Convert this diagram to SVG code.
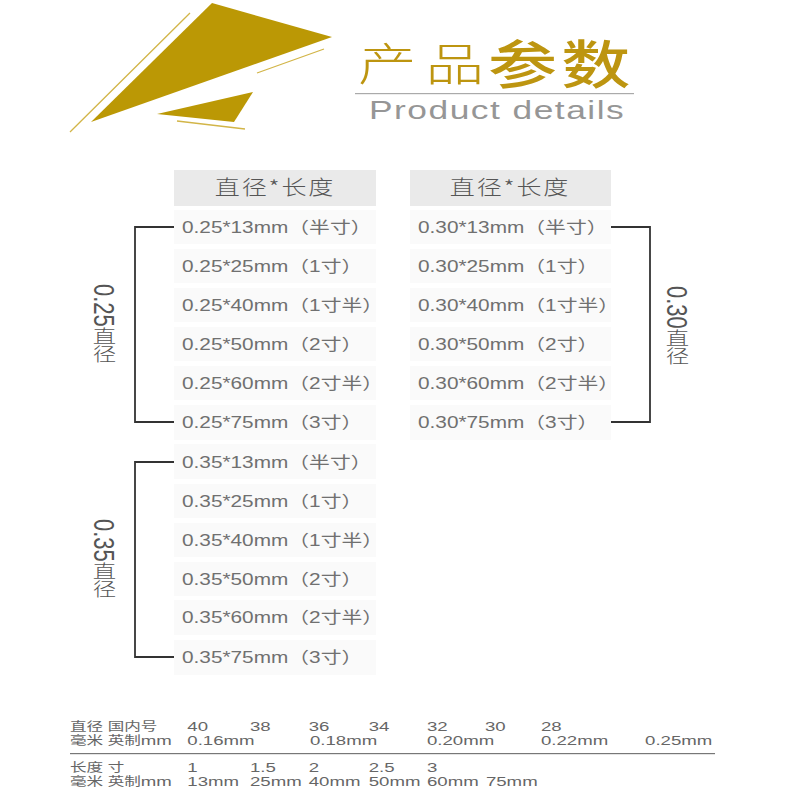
<svg xmlns="http://www.w3.org/2000/svg" width="800" height="800" viewBox="0 0 800 800">
<style>
.hd{fill:#eaeaea}
.row{fill:#fafafa}
.ht{font:300 20px "Noto Sans CJK SC","Liberation Sans",sans-serif;fill:#555;text-anchor:middle;letter-spacing:1.5px}
.t{font:16px "Liberation Sans","Noto Sans CJK SC",sans-serif;fill:#707070}
.v{font:22px "Liberation Sans","Noto Sans CJK SC",sans-serif;fill:#555;writing-mode:vertical-rl}
.v tspan{font-size:18px;font-weight:300}
.b{font:13.5px "Liberation Sans","Noto Sans CJK SC",sans-serif;fill:#666}
.b tspan{font-size:12px}
.conn{fill:none;stroke:#333;stroke-width:1.8}
.g{fill:#bb9805}
.gl{stroke:#d2b548;stroke-width:1.3;fill:none}
.tt{fill:#bd9510;font-family:"Noto Sans CJK SC",sans-serif}
</style>
<rect width="800" height="800" fill="#fff"/>
<g id="logo">
<polygon class="g" points="212,3 332,37 91,122"/>
<polygon class="g" points="157,114 253,92 234,122"/>
<path class="gl" d="M70,132 L190,13 M257,73 L324,49 M177,121 L245,129"/>
</g>
<g id="title">
<text class="tt" transform="matrix(1.3 0 0 1 358 81)" font-size="45" font-weight="300" letter-spacing="7">产品</text>
<text class="tt" transform="matrix(1.33 0 0 1 488 84)" font-size="52" font-weight="500" letter-spacing="3">参数</text>
<rect x="355" y="93" width="279" height="1.2" fill="#aaa"/>
<text transform="matrix(1.36 0 0 1 369 119)" font-family="Liberation Sans,sans-serif" font-size="26" letter-spacing="1.1" fill="#969696">Product details</text>
</g>
<g id="col-left">
<rect class="hd" x="174" y="170" width="202" height="36"/>
<text class="ht" transform="matrix(1.25 0 0 1 275 195)">直径*长度</text>
<g id="r1"><rect class="row" x="174" y="210" width="202" height="34"/><text class="t" transform="matrix(1.3 0 0 1 182 233)">0.25*13mm（半寸）</text></g>
<g id="r2"><rect class="row" x="174" y="249" width="202" height="34"/><text class="t" transform="matrix(1.3 0 0 1 182 272)">0.25*25mm（1寸）</text></g>
<g id="r3"><rect class="row" x="174" y="288" width="202" height="34"/><text class="t" transform="matrix(1.3 0 0 1 182 311)">0.25*40mm（1寸半）</text></g>
<g id="r4"><rect class="row" x="174" y="327" width="202" height="34"/><text class="t" transform="matrix(1.3 0 0 1 182 350)">0.25*50mm（2寸）</text></g>
<g id="r5"><rect class="row" x="174" y="366" width="202" height="34"/><text class="t" transform="matrix(1.3 0 0 1 182 389)">0.25*60mm（2寸半）</text></g>
<g id="r6"><rect class="row" x="174" y="405" width="202" height="35"/><text class="t" transform="matrix(1.3 0 0 1 182 428)">0.25*75mm（3寸）</text></g>
<g id="r7"><rect class="row" x="174" y="444" width="202" height="35"/><text class="t" transform="matrix(1.3 0 0 1 182 468)">0.35*13mm（半寸）</text></g>
<g id="r8"><rect class="row" x="174" y="484" width="202" height="34"/><text class="t" transform="matrix(1.3 0 0 1 182 507)">0.35*25mm（1寸）</text></g>
<g id="r9"><rect class="row" x="174" y="523" width="202" height="34"/><text class="t" transform="matrix(1.3 0 0 1 182 546)">0.35*40mm（1寸半）</text></g>
<g id="r10"><rect class="row" x="174" y="562" width="202" height="34"/><text class="t" transform="matrix(1.3 0 0 1 182 585)">0.35*50mm（2寸）</text></g>
<g id="r11"><rect class="row" x="174" y="600" width="202" height="35"/><text class="t" transform="matrix(1.3 0 0 1 182 623)">0.35*60mm（2寸半）</text></g>
<g id="r12"><rect class="row" x="174" y="640" width="202" height="35"/><text class="t" transform="matrix(1.3 0 0 1 182 663)">0.35*75mm（3寸）</text></g>
</g>
<g id="col-right">
<rect class="hd" x="410" y="170" width="201" height="36"/>
<text class="ht" transform="matrix(1.25 0 0 1 510 195)">直径*长度</text>
<g id="s1"><rect class="row" x="410" y="210" width="201" height="34"/><text class="t" transform="matrix(1.3 0 0 1 418 233)">0.30*13mm（半寸）</text></g>
<g id="s2"><rect class="row" x="410" y="249" width="201" height="34"/><text class="t" transform="matrix(1.3 0 0 1 418 272)">0.30*25mm（1寸）</text></g>
<g id="s3"><rect class="row" x="410" y="288" width="201" height="34"/><text class="t" transform="matrix(1.3 0 0 1 418 311)">0.30*40mm（1寸半）</text></g>
<g id="s4"><rect class="row" x="410" y="327" width="201" height="34"/><text class="t" transform="matrix(1.3 0 0 1 418 350)">0.30*50mm（2寸）</text></g>
<g id="s5"><rect class="row" x="410" y="366" width="201" height="34"/><text class="t" transform="matrix(1.3 0 0 1 418 389)">0.30*60mm（2寸半）</text></g>
<g id="s6"><rect class="row" x="410" y="405" width="201" height="35"/><text class="t" transform="matrix(1.3 0 0 1 418 428)">0.30*75mm（3寸）</text></g>
</g>
<g id="connectors">
<path class="conn" d="M174,227 H135 V422 H174"/>
<path class="conn" d="M174,462 H135 V657 H174"/>
<path class="conn" d="M611,227 H650 V422 H611"/>
</g>
<g id="labels">
<text class="v" transform="matrix(1.3 0 0 1 104 284)">0.25<tspan dx="-1">直径</tspan></text>
<text class="v" transform="matrix(1.3 0 0 1 104 519)">0.35<tspan dx="-1">直径</tspan></text>
<text class="v" transform="matrix(1.3 0 0 1 677 286)">0.30<tspan dx="-1">直径</tspan></text>
</g>
<g id="legend" transform="translate(70 0) scale(1.38 1)">
<text class="b" x="0" y="731"><tspan>直径 国内号</tspan></text>
<text class="b" x="85" y="731">40</text><text class="b" x="130.400" y="731">38</text><text class="b" x="173" y="731">36</text><text class="b" x="216.500" y="731">34</text><text class="b" x="258.700" y="731">32</text><text class="b" x="300.700" y="731">30</text><text class="b" x="341.300" y="731">28</text>
<text class="b" x="0" y="745"><tspan>毫米 英制</tspan>mm</text>
<text class="b" x="85" y="745">0.16mm</text><text class="b" x="173.900" y="745">0.18mm</text><text class="b" x="258.700" y="745">0.20mm</text><text class="b" x="341.300" y="745">0.22mm</text><text class="b" x="416.700" y="745">0.25mm</text>
<rect x="0" y="753" width="467.400" height="1.2" fill="#777"/>
<text class="b" x="0" y="772"><tspan>长度 寸</tspan></text>
<text class="b" x="85" y="772">1</text><text class="b" x="130.400" y="772">1.5</text><text class="b" x="173" y="772">2</text><text class="b" x="216.500" y="772">2.5</text><text class="b" x="258.700" y="772">3</text>
<text class="b" x="0" y="786"><tspan>毫米 英制</tspan>mm</text>
<text class="b" x="85" y="786">13mm</text><text class="b" x="130.400" y="786">25mm</text><text class="b" x="173" y="786">40mm</text><text class="b" x="216.500" y="786">50mm</text><text class="b" x="258.700" y="786">60mm</text><text class="b" x="301.400" y="786">75mm</text>
</g>
</svg>
